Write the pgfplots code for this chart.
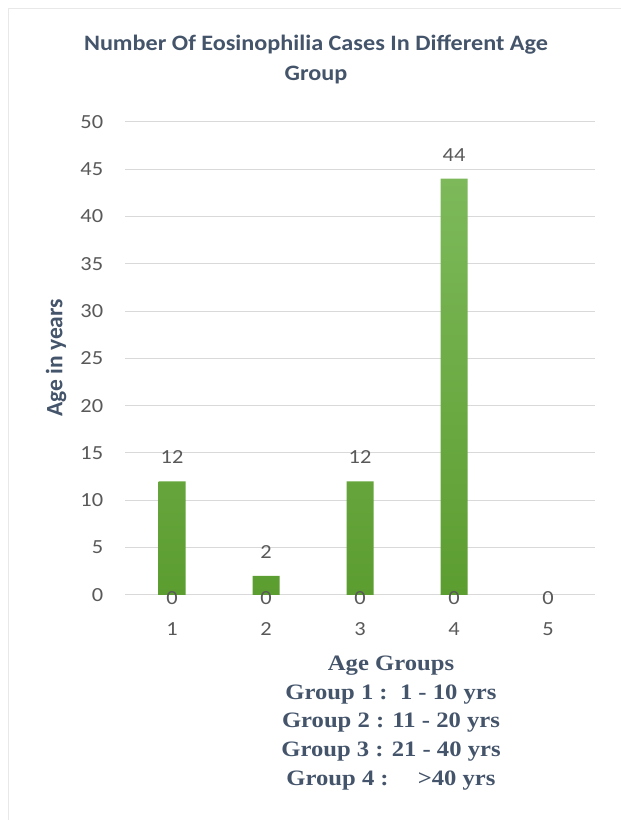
\documentclass[border=0pt]{standalone}
\usepackage{fontspec}
\setmainfont{Carlito}
\newfontfamily\serifbold{Liberation Serif}
\usepackage{pgfplots}
\pgfplotsset{compat=1.18}

\definecolor{titlecol}{HTML}{44546A}
\definecolor{tickcol}{HTML}{595959}
\definecolor{gridcol}{HTML}{D9D9D9}
\definecolor{bartop}{RGB}{125,185,90}
\definecolor{barbot}{RGB}{92,157,48}

\begin{document}
\begin{tikzpicture}[x=1bp, y=1bp]
  \useasboundingbox (0,0) rectangle (621,820);
  % faint chart frame
  \draw[color=black!9, line width=1bp] (8,0) -- (8,811) -- (621,811);

  \begin{axis}[
      at={(133,238)}, anchor=south west,
      scale only axis,
      width=470bp, height=473bp,
      xmin=0.5, xmax=5.5,
      ymin=0, ymax=50,
      xtick={1,2,3,4,5},
      ytick={0,5,...,50},
      axis line style={draw=none},
      major tick style={draw=none},
      ymajorgrids,
      grid style={gridcol, line width=1bp},
      tick label style={font=\fontsize{20bp}{22bp}\selectfont, text=tickcol, xscale=1.12},
      /pgf/number format/assume math mode=true,
      yticklabel style={xshift=-16bp},
      xticklabel style={yshift=-24bp},
      clip=false,
    ]
    \addplot[ybar, bar width=27bp, bar shift=0pt, draw=none,
      top color=bartop, bottom color=barbot,
      nodes near coords,
      nodes near coords style={anchor=center, yshift=24bp, text=tickcol, xscale=1.12,
        font=\fontsize{20bp}{22bp}\selectfont}]
      coordinates {(1,12) (2,2) (3,12) (4,44)};
    \addplot[only marks, mark=none,
      nodes near coords,
      nodes near coords style={anchor=center, yshift=-3bp, text=tickcol, xscale=1.12,
        font=\fontsize{20bp}{22bp}\selectfont}]
      coordinates {(1,0) (2,0) (3,0) (4,0) (5,0)};
  \end{axis}

  % title
  \node[align=center, text=titlecol, xscale=1.1, font=\bfseries\fontsize{22bp}{30bp}\selectfont]
    at (316,760) {Number Of Eosinophilia Cases In Different Age\\Group};
  % y label
  \node[rotate=90, text=titlecol, font=\bfseries\fontsize{23.5bp}{24bp}\selectfont]
    at (56,462) {Age in years};
  % x label with group legend
  \node[align=center, text=titlecol, xscale=1.12, font=\serifbold\bfseries\fontsize{22bp}{28.7bp}\selectfont]
    at (391,097) {Age Groups\\
      Group 1 :\ \ 1 - 10 yrs\\
      Group 2 : 11 - 20 yrs\\
      Group 3 : 21 - 40 yrs\\
      Group 4 :\hspace{26bp}>40 yrs};
\end{tikzpicture}
\end{document}
